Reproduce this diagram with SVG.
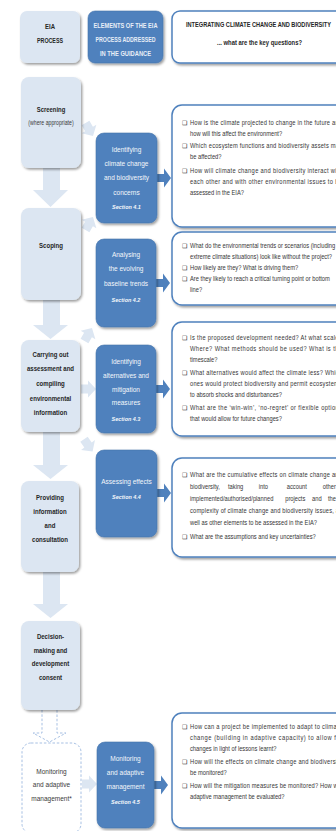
<svg xmlns="http://www.w3.org/2000/svg" width="336" height="831" viewBox="0 0 336 831">
<style>
.ln{fill:#dce6f2}
.bn{fill:#4f81bd;stroke:#4676ad;stroke-width:0.6}
.qb{fill:#fff;stroke:#4f81bd;stroke-width:1.5}
.hd{font-family:"Liberation Sans",Arial,sans-serif;font-weight:bold;text-anchor:middle}
.lt{font-family:"Liberation Sans",Arial,sans-serif;font-size:7.4px;font-weight:bold;fill:#262626;text-anchor:middle}
.lr{font-family:"Liberation Sans",Arial,sans-serif;font-size:7.4px;fill:#3a3a3a;text-anchor:middle}
.bt{font-family:"Liberation Sans",Arial,sans-serif;font-size:7.4px;fill:#f4f7fb;text-anchor:middle}
.sec{font-family:"Liberation Sans",Arial,sans-serif;font-size:6.2px;font-weight:bold;font-style:italic;fill:#f4f7fb;text-anchor:middle}
.qt{font-family:"Liberation Sans",Arial,sans-serif;font-size:7.2px;fill:#353535}
.bu{font-family:"DejaVu Sans",sans-serif;font-size:6px;fill:#1a1a1a}
.la{fill:#dce6f2}
.ba{fill:#4f81bd}
</style>
<defs>
<filter id="sh" x="-20%" y="-20%" width="140%" height="140%">
<feDropShadow dx="1.4" dy="1.7" stdDeviation="1.1" flood-color="#000" flood-opacity="0.38"/>
</filter>
<path id="larr" d="M-7,-4.5 H0 V-8.5 L8,0 L0,8.5 V4.5 H-7 Z"/>
<path id="barr" d="M0,-4 H7 V-9.5 L14,0 L7,9.5 V4 H0 Z"/>
</defs>

<g id="connectors">
<path class="la" d="M43,166 H60 V190 H68 L50.5,207 L33,190 H43 Z"/>
<path class="la" d="M43,298 H60 V325 H68 L50.5,339 L33,325 H43 Z"/>
<path class="la" d="M43,430 H60 V465 H68 L50.5,479 L33,465 H43 Z"/>
<path class="la" d="M43,570 H60 V604 H68 L50.5,618 L33,604 H43 Z"/>
<path d="M42,710 V733 H33 L49.5,742 L66,733 H57 V710" fill="none" stroke="#9db9e0" stroke-width="0.9" stroke-dasharray="2.5,1.8"/>
<use href="#larr" class="la" transform="translate(89,129) rotate(60)"/>
<use href="#larr" class="la" transform="translate(89,224) rotate(-60)"/>
<use href="#larr" class="la" transform="translate(88,335) rotate(-60)"/>
<use href="#larr" class="la" transform="translate(88,389)"/>
<use href="#larr" class="la" transform="translate(88,445) rotate(55)"/>
<use href="#larr" class="la" transform="translate(89,784)"/>
<use href="#barr" class="ba" transform="translate(157,178)"/>
<use href="#barr" class="ba" transform="translate(156,283)"/>
<use href="#barr" class="ba" transform="translate(156,389)"/>
<use href="#barr" class="ba" transform="translate(157,493)"/>
<use href="#barr" class="ba" transform="translate(154,785)"/>
</g>

<g id="h-eia">
<rect class="ln" x="20" y="11" width="60" height="52" rx="7" filter="url(#sh)"/>
<text class="hd" x="50" y="29" font-size="7.6" fill="#262626" textLength="10" lengthAdjust="spacingAndGlyphs">EIA</text>
<text class="hd" x="50" y="43" font-size="7.6" fill="#262626" textLength="26" lengthAdjust="spacingAndGlyphs">PROCESS</text>
</g>
<g id="h-elements">
<rect class="bn" x="88" y="11" width="75" height="52" rx="7" filter="url(#sh)"/>
<text class="hd" x="125.5" y="28" font-size="7.4" fill="#e8eef7" textLength="64" lengthAdjust="spacingAndGlyphs">ELEMENTS OF THE EIA</text>
<text class="hd" x="125.5" y="42" font-size="7.4" fill="#e8eef7" textLength="60" lengthAdjust="spacingAndGlyphs">PROCESS ADDRESSED</text>
<text class="hd" x="125.5" y="56" font-size="7.4" fill="#e8eef7" textLength="51" lengthAdjust="spacingAndGlyphs">IN THE GUIDANCE</text>
</g>
<g id="h-questions">
<rect class="qb" x="172" y="11" width="174" height="52" rx="8" filter="url(#sh)"/>
<text class="hd" x="258.5" y="27" font-size="7" fill="#262626" textLength="145" lengthAdjust="spacingAndGlyphs">INTEGRATING CLIMATE CHANGE AND BIODIVERSITY</text>
<text class="hd" x="259.5" y="45" font-size="7" fill="#262626" textLength="85" lengthAdjust="spacingAndGlyphs">... what are the key questions?</text>
</g>

<g id="screening">
<rect class="ln" x="21" y="77" width="60" height="91" rx="8" filter="url(#sh)"/>
<g transform="matrix(0.8,0,0,1,51,0)">
<text class="lt" x="0" y="112.5">Screening</text>
<text class="lr" x="0" y="125.5" style="font-size:6.5px">(where appropriate)</text>
</g>
</g>
<g id="scoping">
<rect class="ln" x="21" y="208" width="60" height="92" rx="8" filter="url(#sh)"/>
<g transform="matrix(0.82,0,0,1,51,0)">
<text class="lt" x="0" y="248.5">Scoping</text>
</g>
</g>
<g id="carrying-out">
<rect class="ln" x="21" y="340" width="59" height="92" rx="8" filter="url(#sh)"/>
<g transform="matrix(0.82,0,0,1,50.5,0)">
<text class="lt" x="0" y="357.5">Carrying out</text>
<text class="lt" x="0" y="371.5">assessment and</text>
<text class="lt" x="0" y="386">compiling</text>
<text class="lt" x="0" y="401">environmental</text>
<text class="lt" x="0" y="415.5">information</text>
</g>
</g>
<g id="providing">
<rect class="ln" x="21" y="481" width="58" height="91" rx="8" filter="url(#sh)"/>
<g transform="matrix(0.82,0,0,1,50,0)">
<text class="lt" x="0" y="500.5">Providing</text>
<text class="lt" x="0" y="514.5">information</text>
<text class="lt" x="0" y="528.5">and</text>
<text class="lt" x="0" y="542.5">consultation</text>
</g>
</g>
<g id="decision">
<rect class="ln" x="21" y="621" width="59" height="89" rx="8" filter="url(#sh)"/>
<g transform="matrix(0.82,0,0,1,50.5,0)">
<text class="lt" x="0" y="639.5">Decision-</text>
<text class="lt" x="0" y="653.5">making and</text>
<text class="lt" x="0" y="666.5">development</text>
<text class="lt" x="0" y="680.5">consent</text>
</g>
</g>
<g id="monitoring">
<rect x="22" y="743" width="59" height="90" rx="9" fill="#fff" stroke="#9db9e0" stroke-width="0.9" stroke-dasharray="2.5,1.8"/>
<g transform="matrix(0.88,0,0,1,51.5,0)">
<text class="lr" x="0" y="774.5">Monitoring</text>
<text class="lr" x="0" y="787.5">and adaptive</text>
<text class="lr" x="0" y="801.5">management*</text>
</g>
</g>

<g id="s41">
<rect class="bn" x="96" y="133" width="61" height="90" rx="8" filter="url(#sh)"/>
<g transform="matrix(0.88,0,0,1,126.5,0)">
<text class="bt" x="0" y="152.5">Identifying</text>
<text class="bt" x="0" y="166.5">climate change</text>
<text class="bt" x="0" y="180.5">and biodiversity</text>
<text class="bt" x="0" y="195">concerns</text>
<text class="sec" x="0" y="209">Section 4.1</text>
</g>
</g>
<g id="s42">
<rect class="bn" x="96" y="239" width="60" height="88" rx="8" filter="url(#sh)"/>
<g transform="matrix(0.88,0,0,1,126,0)">
<text class="bt" x="0" y="257.5">Analysing</text>
<text class="bt" x="0" y="271.5">the evolving</text>
<text class="bt" x="0" y="286.5">baseline trends</text>
<text class="sec" x="0" y="302">Section 4.2</text>
</g>
</g>
<g id="s43">
<rect class="bn" x="96" y="345" width="60" height="88" rx="8" filter="url(#sh)"/>
<g transform="matrix(0.88,0,0,1,126,0)">
<text class="bt" x="0" y="364.5">Identifying</text>
<text class="bt" x="0" y="378.5">alternatives and</text>
<text class="bt" x="0" y="392.5">mitigation</text>
<text class="bt" x="0" y="405.5">measures</text>
<text class="sec" x="0" y="421">Section 4.3</text>
</g>
</g>
<g id="s44">
<rect class="bn" x="96" y="450" width="61" height="87" rx="8" filter="url(#sh)"/>
<g transform="matrix(0.88,0,0,1,126.5,0)">
<text class="bt" x="0" y="484.5">Assessing effects</text>
<text class="sec" x="0" y="499">Section 4.4</text>
</g>
</g>
<g id="s45">
<rect class="bn" x="97" y="742" width="57" height="86" rx="8" filter="url(#sh)"/>
<g transform="matrix(0.88,0,0,1,125.5,0)">
<text class="bt" x="0" y="761.5">Monitoring</text>
<text class="bt" x="0" y="775.5">and adaptive</text>
<text class="bt" x="0" y="789.5">management</text>
<text class="sec" x="0" y="804">Section 4.5</text>
</g>
</g>

<g id="q1">
<rect class="qb" x="172" y="105" width="174" height="122" rx="10" filter="url(#sh)"/>
<text class="bu" x="182" y="125">❑</text>
<text class="bu" x="182" y="148">❑</text>
<text class="bu" x="182" y="173">❑</text>
<g transform="matrix(0.8,0,0,1,190,0)">
<text class="qt" x="0" y="125" textLength="190" lengthAdjust="spacing">How is the climate projected to change in the future and</text>
<text class="qt" x="0" y="136">how will this affect the environment?</text>
<text class="qt" x="0" y="148" textLength="190" lengthAdjust="spacing">Which ecosystem functions and biodiversity assets may</text>
<text class="qt" x="0" y="159">be affected?</text>
<text class="qt" x="0" y="173" textLength="190" lengthAdjust="spacing">How will climate change and biodiversity interact with</text>
<text class="qt" x="0" y="184" textLength="190" lengthAdjust="spacing">each other and with other environmental issues to be</text>
<text class="qt" x="0" y="195">assessed in the EIA?</text>
</g>
</g>
<g id="q2">
<rect class="qb" x="172" y="232" width="174" height="73" rx="10" filter="url(#sh)"/>
<text class="bu" x="182" y="248">❑</text>
<text class="bu" x="182" y="270">❑</text>
<text class="bu" x="182" y="281">❑</text>
<g transform="matrix(0.8,0,0,1,190,0)">
<text class="qt" x="0" y="248">What do the environmental trends or scenarios (including</text>
<text class="qt" x="0" y="259">extreme climate situations) look like without the project?</text>
<text class="qt" x="0" y="270">How likely are they? What is driving them?</text>
<text class="qt" x="0" y="281">Are they likely to reach a critical turning point or bottom</text>
<text class="qt" x="0" y="292">line?</text>
</g>
</g>
<g id="q3">
<rect class="qb" x="172" y="322" width="174" height="114" rx="10" filter="url(#sh)"/>
<text class="bu" x="182" y="340">❑</text>
<text class="bu" x="182" y="375">❑</text>
<text class="bu" x="182" y="410">❑</text>
<g transform="matrix(0.8,0,0,1,190,0)">
<text class="qt" x="0" y="340" textLength="190" lengthAdjust="spacing">Is the proposed development needed? At what scale?</text>
<text class="qt" x="0" y="351" textLength="190" lengthAdjust="spacing">Where? What methods should be used? What is the</text>
<text class="qt" x="0" y="362">timescale?</text>
<text class="qt" x="0" y="375" textLength="190" lengthAdjust="spacing">What alternatives would affect the climate less? Which</text>
<text class="qt" x="0" y="386" textLength="190" lengthAdjust="spacing">ones would protect biodiversity and permit ecosystems</text>
<text class="qt" x="0" y="397">to absorb shocks and disturbances?</text>
<text class="qt" x="0" y="410" textLength="190" lengthAdjust="spacing">What are the ‘win-win’, ‘no-regret’ or flexible options</text>
<text class="qt" x="0" y="421">that would allow for future changes?</text>
</g>
</g>
<g id="q4">
<rect class="qb" x="172" y="458" width="174" height="99" rx="10" filter="url(#sh)"/>
<text class="bu" x="182" y="477">❑</text>
<text class="bu" x="182" y="539">❑</text>
<g transform="matrix(0.8,0,0,1,190,0)">
<text class="qt" x="0" y="477" textLength="190" lengthAdjust="spacing">What are the cumulative effects on climate change and</text>
<text class="qt" y="489"><tspan x="0">biodiversity,</tspan><tspan x="47.5">taking</tspan><tspan x="86">into</tspan><tspan x="121">account</tspan><tspan x="166">other</tspan></text>
<text class="qt" y="501"><tspan x="0">implemented/authorised/planned</tspan><tspan x="119">projects</tspan><tspan x="152.5">and</tspan><tspan x="172.5">the</tspan></text>
<text class="qt" x="0" y="513" textLength="190" lengthAdjust="spacing">complexity of climate change and biodiversity issues, as</text>
<text class="qt" x="0" y="525">well as other elements to be assessed in the EIA?</text>
<text class="qt" x="0" y="539">What are the assumptions and key uncertainties?</text>
</g>
</g>
<g id="q5">
<rect class="qb" x="172" y="713" width="174" height="115" rx="10" filter="url(#sh)"/>
<text class="bu" x="182" y="729">❑</text>
<text class="bu" x="182" y="764">❑</text>
<text class="bu" x="182" y="788">❑</text>
<g transform="matrix(0.8,0,0,1,190,0)">
<text class="qt" x="0" y="729" textLength="190" lengthAdjust="spacing">How can a project be implemented to adapt to climate</text>
<text class="qt" x="0" y="740" textLength="190" lengthAdjust="spacing">change (building in adaptive capacity) to allow for</text>
<text class="qt" x="0" y="751">changes in light of lessons learnt?</text>
<text class="qt" x="0" y="764" textLength="190" lengthAdjust="spacing">How will the effects on climate change and biodiversity</text>
<text class="qt" x="0" y="775">be monitored?</text>
<text class="qt" x="0" y="788" textLength="190" lengthAdjust="spacing">How will the mitigation measures be monitored? How will</text>
<text class="qt" x="0" y="799">adaptive management be evaluated?</text>
</g>
</g>
</svg>
